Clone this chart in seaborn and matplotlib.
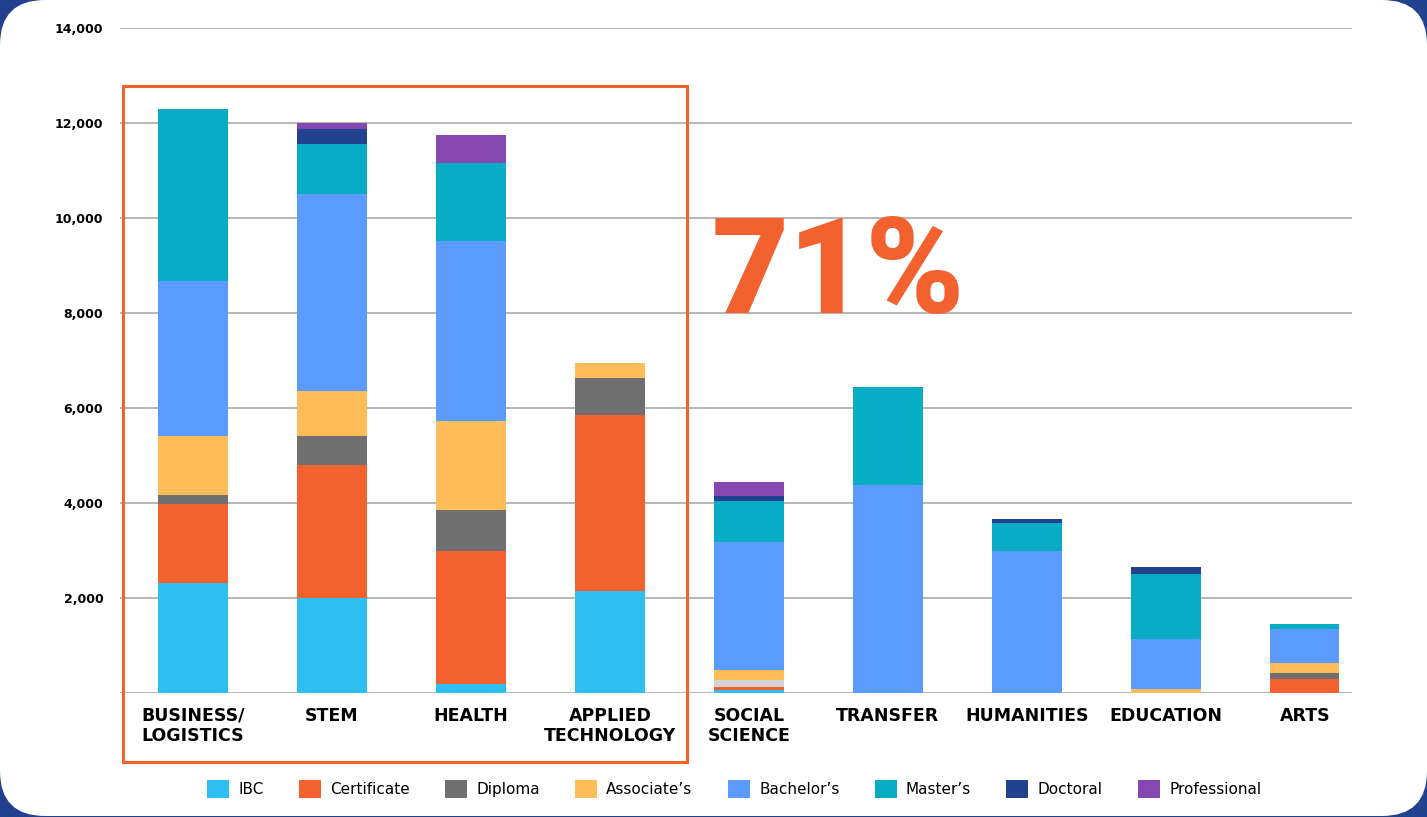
import numpy as np
import pandas as pd
import matplotlib
matplotlib.use("Agg")
import matplotlib.pyplot as plt
import seaborn as sns
from matplotlib.patches import FancyBboxPatch, Rectangle, Patch
from matplotlib.transforms import IdentityTransform

# data
categories = ["BUSINESS/\nLOGISTICS", "STEM", "HEALTH", "APPLIED\nTECHNOLOGY",
              "SOCIAL\nSCIENCE", "TRANSFER", "HUMANITIES", "EDUCATION", "ARTS"]
series = ["IBC", "Certificate", "Diploma", "Associate\u2019s", "Bachelor\u2019s",
          "Master\u2019s", "Doctoral", "Professional"]

ibc          = [2316, 2000, 190, 2147, 63, 0, 0, 0, 0]
certificate  = [1663, 2800, 2800, 3706, 63, 0, 0, 0, 288]
diploma      = [189, 611, 864, 779, 154, 0, 0, 0, 133]
associates   = [1243, 947, 1873, 315, 204, 0, 0, 84, 204]
bachelors    = [3263, 4147, 3790, 0, 2695, 4379, 2989, 1053, 715]
masters      = [3621, 1053, 1642, 0, 870, 2063, 590, 1368, 106]
doctoral     = [0, 316, 0, 0, 98, 0, 84, 148, 0]
professional = [0, 126, 589, 0, 295, 0, 0, 0, 0]

colors = ["#2EBFF0", "#F2612E", "#6F6F6F", "#FFBD59", "#5B9BFF",
          "#08ACC5", "#22418F", "#8548B0"]
orange = "#F2612E"
navy = "#22418F"

df = pd.DataFrame({"category": categories})
for name, vals in zip(series, [ibc, certificate, diploma, associates, bachelors,
                               masters, doctoral, professional]):
    df[name] = vals

cum = df[series].cumsum(axis=1)

fig = plt.figure(figsize=(14.27, 8.17), dpi=100, facecolor=navy)
panel = FancyBboxPatch((0, 1), 1427, 816, boxstyle="round,pad=0,rounding_size=45",
                       transform=IdentityTransform(), fc="white", ec="none", zorder=-10)
fig.add_artist(panel)

ax = fig.add_axes([120 / 1427, 1 - 693 / 817, 1232 / 1427, 665 / 817])
ax.set_facecolor("none")

# stacked bars: draw cumulative totals from the top layer down
for i in range(len(series) - 1, -1, -1):
    tmp = pd.DataFrame({"category": categories, "value": cum[series[i]].values})
    if series[i] == "Diploma":
        pal = {c: colors[i] for c in categories}
        pal["SOCIAL\nSCIENCE"] = "#D3D3D3"
        sns.barplot(data=tmp, x="category", y="value", hue="category", palette=pal,
                    order=categories, width=0.5, linewidth=0, saturation=1,
                    legend=False, ax=ax, zorder=3)
    else:
        sns.barplot(data=tmp, x="category", y="value", color=colors[i],
                    order=categories, width=0.5, linewidth=0, saturation=1,
                    ax=ax, zorder=3)

ax.set_ylim(0, 14000)
ax.set_xlim(-0.525, 8.34)
ax.set_yticks(np.arange(0, 14001, 2000))
ax.set_yticklabels([""] + [f"{v:,}" for v in range(2000, 14001, 2000)],
                   fontsize=9, fontweight="bold")
ax.set_xticks(range(len(categories)))
ax.set_xticklabels(categories, fontsize=12.5, fontweight="semibold", linespacing=1.15)
ax.tick_params(axis="both", length=0)
ax.tick_params(axis="y", pad=12)
ax.tick_params(axis="x", pad=10)
ax.grid(axis="y", color="#AAAAAA", linewidth=1.2, zorder=0)
ax.set_axisbelow(True)
for s in ax.spines.values():
    s.set_visible(False)
ax.set_xlabel("")
ax.set_ylabel("")

# highlight box around first four categories
fig.add_artist(Rectangle((123 / 1427, 55 / 817), 564 / 1427, 676 / 817,
                         transform=fig.transFigure, fill=False, ec=orange, lw=2.2))
fig.text(838 / 1427, 1 - 313 / 817, "71%", color=orange, fontsize=96,
         fontfamily="Roboto", fontweight="black",
         ha="center", va="baseline")

handles = [Patch(facecolor=c, label=s) for c, s in zip(colors, series)]
fig.legend(handles=handles, loc="center", bbox_to_anchor=(734 / 1427, 1 - 789 / 817),
           ncol=8, frameon=False, fontsize=11, handlelength=1.45, handleheight=1.45,
           handletextpad=0.6, columnspacing=2.3)

fig.savefig("out.png", dpi=100, facecolor=fig.get_facecolor())
